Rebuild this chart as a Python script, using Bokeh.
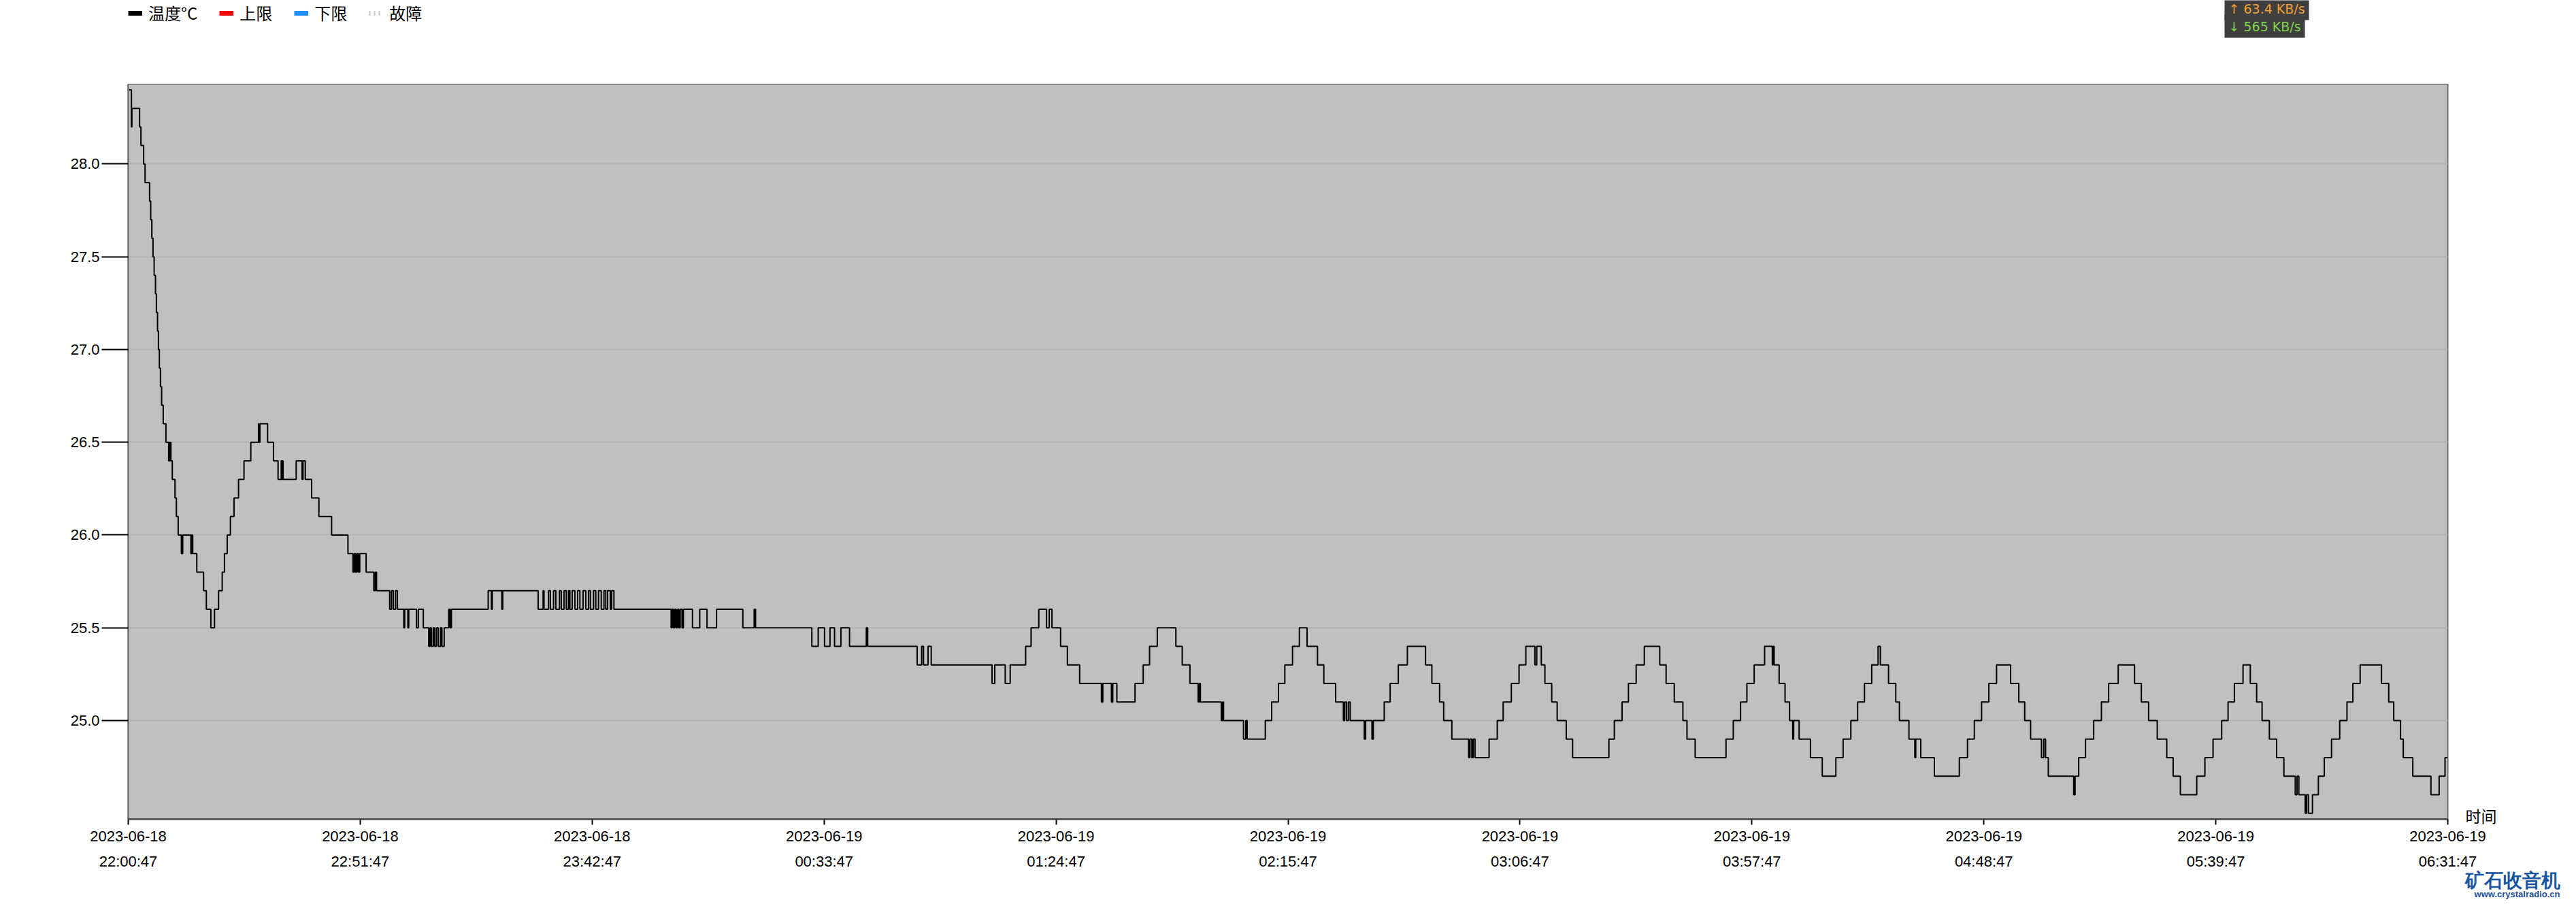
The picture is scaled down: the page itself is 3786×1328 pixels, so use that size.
import pandas as pd
from bokeh.plotting import figure
from bokeh.layouts import column
from bokeh.models import (FixedTicker, LinearAxis, Legend, LegendItem, Title, Label,
                          Range1d, PrintfTickFormatter)
from bokeh.embed import file_html
from bokeh.resources import INLINE

START = pd.Timestamp("2023-06-18 22:00:47")
END = pd.Timestamp("2023-06-19 06:31:47")

# (minutes since start, temperature °C); value holds until next entry
temp_steps = [
    (0.2, 28.4), (0.7, 28.2), (0.8, 28.3), (2.5, 28.2), (2.8, 28.1), (3.4, 28.0), (3.7, 27.9),
    (4.7, 27.8), (4.95, 27.7), (5.2, 27.6), (5.45, 27.5), (5.7, 27.4), (6.0, 27.3), (6.2, 27.2),
    (6.45, 27.1), (6.65, 27.0), (6.85, 26.9), (7.1, 26.8), (7.35, 26.7), (7.7, 26.6), (8.3, 26.5),
    (8.9, 26.4), (9.0, 26.5), (9.1, 26.4), (9.2, 26.5), (9.4, 26.4), (9.7, 26.3), (10.3, 26.2),
    (10.6, 26.1), (11.0, 26.0), (11.7, 25.9), (12.0, 26.0), (13.8, 25.9), (14.0, 26.0), (14.2, 25.9),
    (15.1, 25.8), (16.6, 25.7), (17.2, 25.6), (18.2, 25.5), (19.0, 25.6), (19.9, 25.7), (20.7, 25.8),
    (21.2, 25.9), (21.8, 26.0), (22.5, 26.1), (23.3, 26.2), (24.3, 26.3), (25.5, 26.4), (27.0, 26.5),
    (28.7, 26.6), (28.8, 26.5), (29.0, 26.6), (30.7, 26.5), (32.0, 26.4), (33.0, 26.3), (33.7, 26.4),
    (33.8, 26.3), (34.0, 26.4), (34.1, 26.3), (37.0, 26.4), (38.3, 26.3), (38.5, 26.4), (39.0, 26.3),
    (40.4, 26.2), (42.0, 26.1), (44.8, 26.0), (48.4, 25.9), (49.5, 25.8), (49.8, 25.9), (50.1, 25.8),
    (50.4, 25.9), (50.7, 25.8), (51.0, 25.9), (52.4, 25.8), (54.1, 25.7), (54.4, 25.8), (54.7, 25.7),
    (57.6, 25.6), (58.0, 25.7), (58.4, 25.6), (58.9, 25.7), (59.3, 25.6), (60.7, 25.5), (60.9, 25.6),
    (61.6, 25.5), (61.8, 25.6), (63.5, 25.5), (63.9, 25.6), (65.0, 25.5), (66.2, 25.4), (66.5, 25.5),
    (66.8, 25.4), (67.2, 25.5), (67.5, 25.4), (67.9, 25.5), (68.3, 25.4), (68.8, 25.5), (69.1, 25.4),
    (69.6, 25.5), (70.6, 25.6), (70.9, 25.5), (71.2, 25.6), (79.3, 25.7), (80.0, 25.6), (80.2, 25.7),
    (82.3, 25.6), (82.5, 25.7), (90.3, 25.6), (91.4, 25.7), (91.6, 25.6), (92.6, 25.7), (93.0, 25.6),
    (93.7, 25.7), (94.2, 25.6), (95.0, 25.7), (95.4, 25.6), (96.0, 25.7), (96.5, 25.6), (97.0, 25.7),
    (97.3, 25.6), (97.8, 25.7), (98.4, 25.6), (99.0, 25.7), (99.5, 25.6), (100.2, 25.7), (100.8, 25.6),
    (101.4, 25.7), (101.8, 25.6), (102.5, 25.7), (103.0, 25.6), (103.6, 25.7), (104.2, 25.6),
    (104.8, 25.7), (105.2, 25.6), (105.6, 25.7), (106.2, 25.6), (106.5, 25.7), (107.0, 25.6),
    (119.6, 25.5), (119.8, 25.6), (120.1, 25.5), (120.4, 25.6), (120.7, 25.5), (121.0, 25.6),
    (121.3, 25.5), (121.6, 25.6), (122.0, 25.5), (122.3, 25.6), (124.3, 25.5), (125.9, 25.6),
    (127.5, 25.5), (129.6, 25.6), (135.4, 25.5), (137.9, 25.6), (138.2, 25.5), (150.6, 25.4),
    (152.0, 25.5), (153.4, 25.4), (154.6, 25.5), (155.6, 25.4), (157.0, 25.5), (158.9, 25.4),
    (162.6, 25.5), (162.9, 25.4), (173.8, 25.3), (174.8, 25.4), (175.2, 25.3), (176.2, 25.4),
    (176.9, 25.3), (190.3, 25.2), (190.9, 25.3), (193.2, 25.2), (194.3, 25.3), (197.7, 25.4),
    (198.9, 25.5), (200.6, 25.6), (202.3, 25.5), (202.9, 25.6), (203.5, 25.5), (205.4, 25.4),
    (206.9, 25.3), (209.6, 25.2), (214.4, 25.1), (214.7, 25.2), (216.6, 25.1), (216.9, 25.2),
    (217.8, 25.1), (221.8, 25.2), (223.6, 25.3), (225.0, 25.4), (226.7, 25.5), (230.8, 25.4),
    (232.2, 25.3), (233.9, 25.2), (235.7, 25.1), (236.0, 25.2), (236.2, 25.1), (240.8, 25.0),
    (241.1, 25.1), (241.3, 25.0), (245.7, 24.9), (246.2, 25.0), (246.5, 24.9), (250.5, 25.0),
    (251.9, 25.1), (253.4, 25.2), (254.8, 25.3), (256.5, 25.4), (258.0, 25.5), (259.7, 25.4),
    (262.0, 25.3), (263.4, 25.2), (266.0, 25.1), (267.7, 25.0), (268.0, 25.1), (268.4, 25.0),
    (268.8, 25.1), (269.2, 25.0), (272.3, 24.9), (272.6, 25.0), (274.0, 24.9), (274.3, 25.0),
    (276.7, 25.1), (278.0, 25.2), (279.8, 25.3), (281.8, 25.4), (285.8, 25.3), (287.2, 25.2),
    (288.9, 25.1), (289.8, 25.0), (291.6, 24.9), (295.3, 24.8), (295.6, 24.9), (296.0, 24.8),
    (296.3, 24.9), (296.7, 24.8), (299.8, 24.9), (301.6, 25.0), (302.9, 25.1), (304.7, 25.2),
    (306.4, 25.3), (307.9, 25.4), (309.9, 25.3), (310.3, 25.4), (311.3, 25.3), (312.1, 25.2),
    (313.6, 25.1), (314.8, 25.0), (316.8, 24.9), (318.2, 24.8), (326.2, 24.9), (327.4, 25.0),
    (329.1, 25.1), (330.5, 25.2), (332.2, 25.3), (334.0, 25.4), (337.4, 25.3), (338.8, 25.2),
    (340.6, 25.1), (342.5, 25.0), (343.4, 24.9), (345.2, 24.8), (352.0, 24.9), (353.6, 25.0),
    (355.2, 25.1), (356.6, 25.2), (358.2, 25.3), (360.5, 25.4), (362.2, 25.3), (362.4, 25.4),
    (362.6, 25.3), (363.7, 25.2), (365.0, 25.1), (366.0, 25.0), (366.7, 24.9), (366.9, 25.0),
    (368.1, 24.9), (370.6, 24.8), (373.2, 24.7), (376.2, 24.8), (377.8, 24.9), (379.5, 25.0),
    (381.0, 25.1), (382.5, 25.2), (384.1, 25.3), (385.5, 25.4), (386.0, 25.3), (387.8, 25.2),
    (389.4, 25.1), (390.2, 25.0), (392.3, 24.9), (393.6, 24.8), (393.8, 24.9), (394.9, 24.8),
    (397.9, 24.7), (403.4, 24.8), (405.2, 24.9), (406.7, 25.0), (408.3, 25.1), (409.9, 25.2),
    (411.6, 25.3), (414.7, 25.2), (416.5, 25.1), (417.8, 25.0), (419.1, 24.9), (421.5, 24.8),
    (422.0, 24.9), (422.4, 24.8), (423.0, 24.7), (428.6, 24.6), (428.9, 24.7), (429.7, 24.8),
    (431.2, 24.9), (433.0, 25.0), (434.7, 25.1), (436.3, 25.2), (438.4, 25.3), (442.0, 25.2),
    (443.5, 25.1), (445.1, 25.0), (447.0, 24.9), (449.1, 24.8), (450.5, 24.7), (452.1, 24.6),
    (455.7, 24.7), (457.5, 24.8), (459.3, 24.9), (461.2, 25.0), (462.6, 25.1), (464.0, 25.2),
    (465.9, 25.3), (467.5, 25.2), (468.9, 25.1), (470.1, 25.0), (471.7, 24.9), (473.3, 24.8),
    (474.9, 24.7), (477.4, 24.6), (477.8, 24.7), (478.2, 24.6), (479.6, 24.5), (479.9, 24.6),
    (480.3, 24.5), (481.2, 24.6), (482.5, 24.7), (483.8, 24.8), (485.4, 24.9), (487.2, 25.0),
    (488.8, 25.1), (490.1, 25.2), (491.7, 25.3), (496.4, 25.2), (498.0, 25.1), (499.1, 25.0),
    (500.6, 24.9), (501.2, 24.8), (503.3, 24.7), (507.3, 24.6), (509.1, 24.7), (510.4, 24.8),
    (511.0, 24.8),
]
minutes = [t for t, _ in temp_steps]
temps = [v for _, v in temp_steps]

x_dates = ["2023-06-18", "2023-06-18", "2023-06-18", "2023-06-19", "2023-06-19", "2023-06-19",
           "2023-06-19", "2023-06-19", "2023-06-19", "2023-06-19", "2023-06-19"]
x_times = ["22:00:47", "22:51:47", "23:42:47", "00:33:47", "01:24:47", "02:15:47",
           "03:06:47", "03:57:47", "04:48:47", "05:39:47", "06:31:47"]
y_ticks = [25.0, 25.5, 26.0, 26.5, 27.0, 27.5, 28.0]
legend_labels = ["温度°C", "上限", "下限", "故障"]
legend_colors = ["#000000", "#ff0000", "#1e90ff", "#c8c8c8"]
x_title = "时间"
watermark = ["矿石收音机", "www.crystalradio.cn"]
net_speed = ["↑ 63.4 KB/s", "↓ 565 KB/s"]

Y_MIN, Y_MAX = 24.468, 28.431
X_TITLE_Y = 24.49

times = START + pd.to_timedelta(pd.Series(minutes), unit="min")
start_ms = int(START.value // 10**6)
end_ms = int(END.value // 10**6)
n_int = len(x_times) - 1
tick_ms = [start_ms + (end_ms - start_ms) * k // n_int for k in range(len(x_times))]

TICK_FONT = "Liberation Sans"
CJK_FONT = "Noto Sans CJK SC"
W = 3770
HEADER_H = 123
FRAME_LEFT = 188

# ---------------- header strip: legend + network-speed overlay
# (inside a column its frame is aligned with the main chart's frame)
hdr = figure(width=W, height=HEADER_H, x_range=Range1d(0, 1), y_range=Range1d(0, 1),
             output_backend="svg", toolbar_location=None,
             x_axis_location=None, y_axis_location=None,
             min_border_left=0, min_border_right=0, min_border_top=0, min_border_bottom=0)
hdr.grid.visible = False
hdr.outline_line_color = None
hdr.background_fill_color = "white"
hdr.border_fill_color = "white"

swatches = []
for i, col in enumerate(legend_colors):
    kw = dict(line_color=col, line_width=7)
    if i == 3:
        kw["line_dash"] = "2 5"
    swatches.append(hdr.line(x=[0.0, 0.0], y=[float("nan"), float("nan")], **kw))
legend = Legend(items=[LegendItem(label=lab, renderers=[r]) for lab, r in zip(legend_labels, swatches)],
                orientation="horizontal", location=(0, 87),
                glyph_width=21, glyph_height=24, label_height=24, label_standoff=9, spacing=32,
                padding=0, margin=0, border_line_color=None, background_fill_alpha=0,
                label_text_font=CJK_FONT, label_text_font_size="24px", label_text_color="black")
hdr.add_layout(legend)

hdr.add_layout(Label(x=3269 - FRAME_LEFT, y=HEADER_H - 12, x_units="screen", y_units="screen",
                     text=net_speed[0], text_font="DejaVu Sans", text_font_size="19px",
                     text_color="#f0a030", text_align="left", text_baseline="middle",
                     background_fill_color="#3f3f3f", padding=6))
hdr.add_layout(Label(x=3269 - FRAME_LEFT, y=HEADER_H - 38, x_units="screen", y_units="screen",
                     text=net_speed[1], text_font="DejaVu Sans", text_font_size="19px",
                     text_color="#7fd44b", text_align="left", text_baseline="middle",
                     background_fill_color="#3f3f3f", padding=6))

# ---------------- main chart
p = figure(width=W, height=1200, x_axis_type="datetime",
           x_range=Range1d(START, END), y_range=Range1d(Y_MIN, Y_MAX),
           output_backend="svg", toolbar_location=None,
           min_border_left=FRAME_LEFT, min_border_right=173, min_border_top=0, min_border_bottom=120)
p.background_fill_color = "#c0c0c0"
p.border_fill_color = "white"
p.outline_line_color = "#707070"
p.outline_line_width = 2

p.step(x=times, y=temps, mode="after", line_color="black", line_width=2)

xa = p.xaxis[0]
xa.ticker = FixedTicker(ticks=tick_ms, minor_ticks=[])
xa.major_label_overrides = dict(zip(tick_ms, x_dates))
xa.axis_line_color = "#5a5a5a"
xa.axis_line_width = 3
xa.major_tick_line_color = "black"
xa.major_tick_line_width = 2
xa.major_tick_out = 8
xa.major_tick_in = 0
xa.minor_tick_line_color = None
xa.major_label_text_font = TICK_FONT
xa.major_label_text_font_size = "22px"
xa.major_label_text_color = "black"
xa.major_label_standoff = 9

xa2 = LinearAxis(ticker=FixedTicker(ticks=tick_ms, minor_ticks=[]),
                 major_label_overrides=dict(zip(tick_ms, x_times)),
                 axis_line_color=None, major_tick_line_color=None, minor_tick_line_color=None,
                 major_tick_out=0, major_tick_in=0, minor_tick_out=0,
                 major_label_text_font=TICK_FONT, major_label_text_font_size="22px",
                 major_label_text_color="black", major_label_standoff=14)
p.add_layout(xa2, "below")

# watermark under the bottom-right corner
p.add_layout(Title(text=watermark[0], align="right", offset=-165, standoff=-10,
                   text_font=TICK_FONT, text_font_size="28px", text_font_style="bold",
                   text_color="#1b56a0"), "below")
p.add_layout(Title(text=watermark[1], align="right", offset=-165, standoff=0,
                   text_font=TICK_FONT, text_font_size="13px", text_font_style="bold",
                   text_color="#1b4f94"), "below")

ya = p.yaxis[0]
ya.ticker = FixedTicker(ticks=y_ticks, minor_ticks=[])
ya.formatter = PrintfTickFormatter(format="%.1f")
ya.axis_line_color = "#6e6e6e"
ya.axis_line_width = 2
ya.major_tick_line_color = "black"
ya.major_tick_line_width = 2
ya.major_tick_out = 39
ya.major_tick_in = 0
ya.minor_tick_out = 0
ya.minor_tick_in = 0
ya.minor_tick_line_color = None
ya.major_label_text_font = TICK_FONT
ya.major_label_text_font_size = "22px"
ya.major_label_text_color = "black"
ya.major_label_standoff = 3

# x-axis title "时间" at the right end of the x axis
ra = LinearAxis(ticker=FixedTicker(ticks=[X_TITLE_Y], minor_ticks=[]),
                major_label_overrides={X_TITLE_Y: x_title},
                axis_line_color=None, major_tick_line_color=None, minor_tick_line_color=None,
                major_tick_out=0, major_tick_in=0, minor_tick_out=0,
                major_label_text_font=CJK_FONT, major_label_text_font_size="23px",
                major_label_text_color="black", major_label_standoff=26)
p.add_layout(ra, "right")

p.xgrid.grid_line_color = None
p.ygrid.ticker = FixedTicker(ticks=y_ticks, minor_ticks=[])
p.ygrid.grid_line_color = "#b4b4b4"
p.ygrid.grid_line_width = 2

page = column(hdr, p, spacing=0)
open("out.html", "w").write(file_html(page, INLINE))
